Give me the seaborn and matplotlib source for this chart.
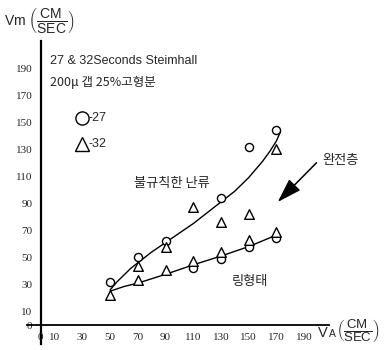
import numpy as np
import pandas as pd
import matplotlib
matplotlib.use("Agg")
import matplotlib.pyplot as plt
import seaborn as sns

circle_x = [50, 70, 90, 110, 130, 130, 150, 150, 170, 170]
circle_y = [32, 50, 62, 42, 49, 94, 58, 132, 64, 144]
tri_x = [50, 70, 70, 90, 90, 110, 110, 130, 130, 150, 150, 170, 170]
tri_y = [22, 44, 33, 58, 41, 87, 47, 76, 54, 82, 63, 130, 69]

# hand drawn boundary curves
upper_x = [50, 55, 60, 65, 70, 80, 90, 100, 110, 120, 130, 140, 150, 160, 165, 170, 173]
upper_y = [26, 32, 37, 42, 46, 54, 61, 68, 75, 83, 91, 99, 109, 121, 128, 136, 143]
lower_x = [50, 60, 70, 90, 110, 130, 150, 170]
lower_y = [25, 28.5, 31, 37.5, 44.5, 51, 58, 66.5]

xticks = [0, 10, 30, 50, 70, 90, 110, 130, 150, 170, 190]
yticks = [0, 10, 30, 50, 70, 90, 110, 130, 150, 170, 190]

sns.set_style("white")
plt.rcParams["font.family"] = ["Noto Sans CJK KR", "DejaVu Sans"]
plt.rcParams["mathtext.fontset"] = "custom"
plt.rcParams["mathtext.rm"] = "Liberation Sans"

fig = plt.figure(figsize=(3.9, 3.5), dpi=100)
ax = fig.add_axes([27 / 390, 6 / 350, 302 / 390, 303 / 350])

df_c = pd.DataFrame({"x": circle_x, "y": circle_y})
df_t = pd.DataFrame({"x": tri_x, "y": tri_y})
df_u = pd.DataFrame({"x": upper_x, "y": upper_y})
df_l = pd.DataFrame({"x": lower_x, "y": lower_y})

sns.lineplot(data=df_u, x="x", y="y", color="black", lw=1.0, ax=ax, sort=False)
sns.lineplot(data=df_l, x="x", y="y", color="black", lw=1.0, ax=ax, sort=False)
sns.scatterplot(data=df_c, x="x", y="y", marker="o", s=34, facecolor="white",
                edgecolor="black", linewidth=1.0, ax=ax, zorder=3)
sns.scatterplot(data=df_t, x="x", y="y", marker="^", s=48, facecolor="white",
                edgecolor="black", linewidth=1.0, ax=ax, zorder=3)

ax.set_xlim(-10, 208)
ax.set_ylim(-14, 210)
for s in ["top", "right"]:
    ax.spines[s].set_visible(False)
ax.spines["left"].set_position(("data", 0))
ax.spines["bottom"].set_position(("data", 0))
ax.spines["left"].set_linewidth(1.6)
ax.spines["bottom"].set_linewidth(1.3)
ax.spines["left"].set_color("black")
ax.spines["bottom"].set_color("black")
ax.spines["left"].set_bounds(-14, 210)
ax.spines["bottom"].set_bounds(-10, 208)

ax.set_xticks(xticks)
ax.set_xticklabels([""] + [str(t) for t in xticks[1:]], family="Liberation Serif", fontsize=8)
ax.set_yticks(yticks)
ax.set_yticklabels([str(t) for t in yticks], family="Liberation Serif", fontsize=8)
ax.tick_params(axis="both", direction="out", length=4, width=1, color="black", pad=2)
ax.text(0, -6, "0", ha="center", va="top", family="Liberation Serif", fontsize=8)
ax.set_xlabel("")
ax.set_ylabel("")

# axis titles
fig.text(4 / 390, 1 - 21 / 350, r"Vm $\left(\dfrac{\mathrm{CM}}{\mathrm{SEC}}\right)$",
         fontsize=10, ha="left", va="center", family="Liberation Sans")
fig.text(318 / 390, 1 - 337 / 350, "V", fontsize=10.5, ha="left", va="baseline",
         family="Liberation Sans")
fig.text(328.5 / 390, 1 - 337 / 350, "A", fontsize=7.5, ha="left", va="baseline",
         family="Liberation Sans")
fig.text(336 / 390, 1 - 331 / 350, r"$\left(\dfrac{\mathrm{CM}}{\mathrm{SEC}}\right)$",
         fontsize=9.5, ha="left", va="center", family="Liberation Sans")

# annotations
ax.text(6.5, 195, "27 & 32Seconds Steimhall", fontsize=9, ha="left", va="center",
        family="Liberation Sans")
ax.text(6.5, 179, "200\u03bc 갭 25%고형분", fontsize=9, ha="left", va="center")
ax.plot([30], [153], marker="o", ms=9.5, mfc="white", mec="black", mew=1.0, clip_on=False)
ax.text(34.5, 153, "-27", fontsize=9, ha="left", va="center", family="Liberation Sans")
ax.plot([30], [134], marker="^", ms=10.5, mfc="white", mec="black", mew=1.0, clip_on=False)
ax.text(34.5, 134, "-32", fontsize=9, ha="left", va="center", family="Liberation Sans")

ax.text(94.5, 105, "불규칙한 난류", fontsize=9.5, ha="center", va="center")
ax.text(151, 32, "링형태", fontsize=9.5, ha="center", va="center")
ax.text(203, 122, "완전층", fontsize=9.5, ha="left", va="center")
ax.annotate("", xy=(171, 91), xytext=(199, 120),
            arrowprops=dict(arrowstyle="-|>,head_length=1.0,head_width=0.32",
                            mutation_scale=15, color="black", lw=1.1,
                            shrinkA=0, shrinkB=0),
            annotation_clip=False)

fig.savefig("out.png", dpi=100)
